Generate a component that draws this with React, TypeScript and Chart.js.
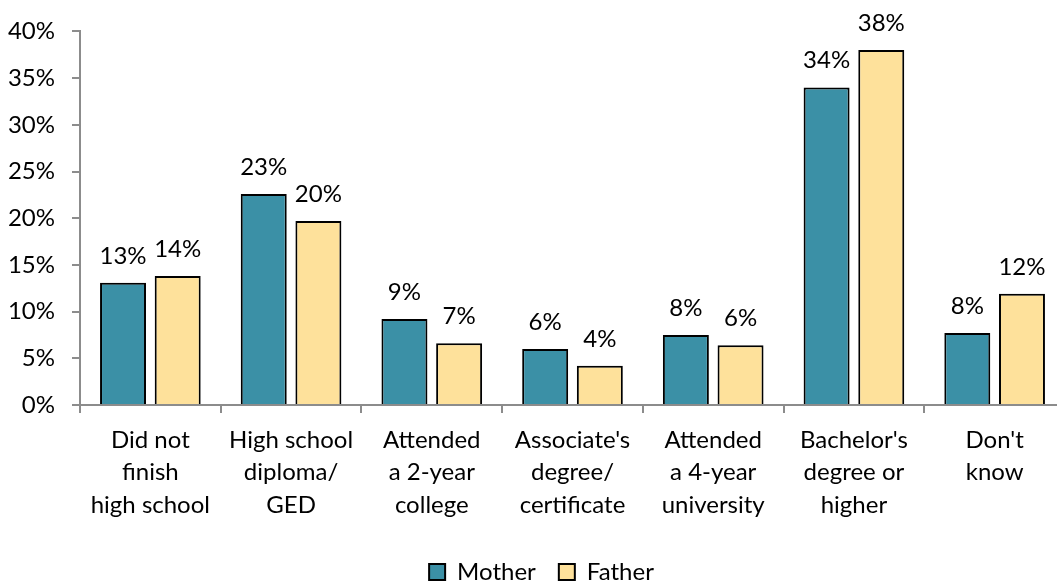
import React, { useEffect, useRef } from "react";
import { Chart, registerables } from "chart.js";

Chart.register(...registerables);

const FONT = "Lato, 'Liberation Sans', sans-serif";

const categories: string[][] = [
  ["Did not", "finish", "high school"],
  ["High school", "diploma/", "GED"],
  ["Attended", "a 2-year", "college"],
  ["Associate's", "degree/", "certificate"],
  ["Attended", "a 4-year", "university"],
  ["Bachelor's", "degree or", "higher"],
  ["Don't", "know"],
];
const motherValues = [13.1, 22.6, 9.2, 6.0, 7.5, 34.0, 7.7];
const fatherValues = [13.8, 19.7, 6.6, 4.2, 6.4, 38.0, 11.9];
const seriesNames = ["Mother", "Father"];
const seriesColors = ["#3b90a6", "#fee19b"];
const yMin = 0;
const yMax = 40;
const yStep = 5;

const dataLabels = {
  id: "dataLabels",
  afterDatasetsDraw(chart: any) {
    const ctx = chart.ctx;
    ctx.save();
    ctx.font = `24px ${FONT}`;
    ctx.fillStyle = "#000";
    ctx.textAlign = "center";
    ctx.textBaseline = "alphabetic";
    chart.data.datasets.forEach((ds: any, i: number) => {
      const meta = chart.getDatasetMeta(i);
      meta.data.forEach((el: any, j: number) => {
        const v = ds.data[j] as number;
        ctx.fillText(Math.round(v) + "%", el.x, el.y - 19);
      });
    });
    ctx.restore();
  },
};

// shift the legend a little to the right, as in the reference
const legendShift = {
  id: "legendShift",
  afterLayout(chart: any) {
    if (chart.legend) {
      chart.legend.left += 9;
      chart.legend.right += 9;
    }
  },
};

export default function App() {
  const ref = useRef<HTMLCanvasElement | null>(null);

  useEffect(() => {
    document.body.style.margin = "0";
    const canvas = ref.current;
    if (!canvas) return;
    const chart = new Chart(canvas, {
      type: "bar",
      data: {
        labels: categories as any,
        datasets: [
          {
            label: seriesNames[0],
            data: motherValues,
            backgroundColor: seriesColors[0],
            borderColor: "#000",
            borderWidth: 2,
            categoryPercentage: 0.777,
            barPercentage: 0.841,
          },
          {
            label: seriesNames[1],
            data: fatherValues,
            backgroundColor: seriesColors[1],
            borderColor: "#000",
            borderWidth: 2,
            categoryPercentage: 0.777,
            barPercentage: 0.841,
          },
        ],
      },
      options: {
        responsive: false,
        animation: false,
        layout: { padding: { top: 29.5, left: 0, right: 1, bottom: 0 } },
        plugins: {
          tooltip: { enabled: false },
          legend: {
            position: "bottom",
            labels: {
              boxWidth: 16,
              boxHeight: 16,
              padding: 23,
              color: "#000",
              font: { family: FONT, size: 24 },
            },
          },
        },
        scales: {
          x: {
            grid: {
              offset: true,
              drawOnChartArea: false,
              drawTicks: true,
              tickLength: 8,
              color: "#8c8c8c",
              lineWidth: 2,
            },
            border: { color: "#8c8c8c", width: 2 },
            ticks: {
              color: "#000",
              font: { family: FONT, size: 24, lineHeight: 1.35 },
              padding: 11,
              maxRotation: 0,
              autoSkip: false,
            },
            afterFit: (scale: any) => {
              scale.height = 132;
            },
          },
          y: {
            min: yMin,
            max: yMax,
            grid: {
              drawOnChartArea: false,
              drawTicks: true,
              tickLength: 8,
              color: "#8c8c8c",
              lineWidth: 2,
            },
            border: { color: "#8c8c8c", width: 2 },
            ticks: {
              stepSize: yStep,
              color: "#000",
              font: { family: FONT, size: 24 },
              padding: 17,
              callback: (v: any) => v + "%",
            },
            afterFit: (scale: any) => {
              scale.width = 80;
            },
          },
        },
      },
      plugins: [dataLabels, legendShift],
    });
    return () => chart.destroy();
  }, []);

  return (
    <div style={{ width: 1057, height: 584, overflow: "hidden", position: "relative", background: "#fff" }}>
      <canvas ref={ref} width={1066} height={594} style={{ width: 1066, height: 594, display: "block" }} />
    </div>
  );
}
